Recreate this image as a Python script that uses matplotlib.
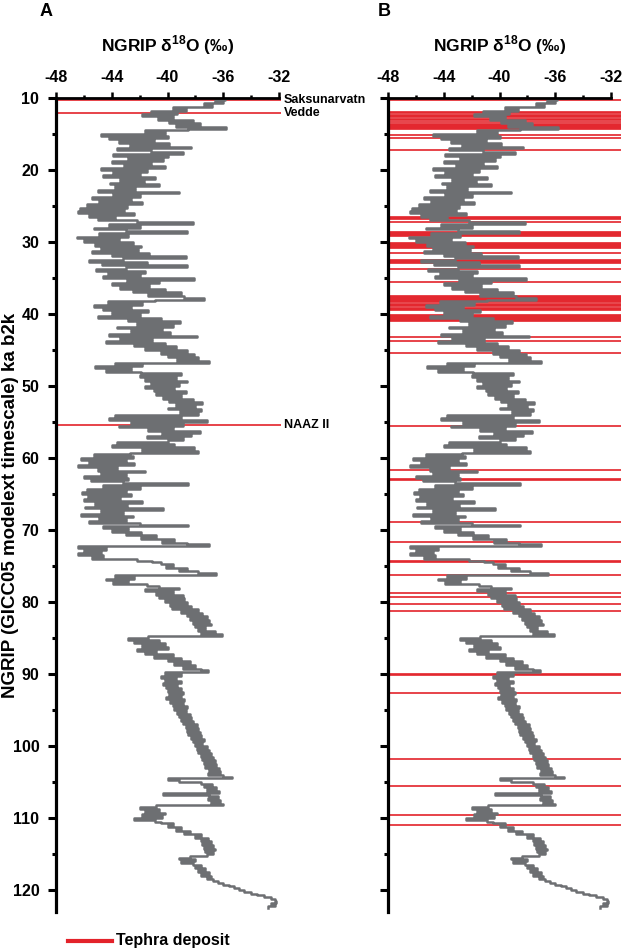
import matplotlib
matplotlib.use('Agg')
import matplotlib.pyplot as plt
from matplotlib.ticker import MultipleLocator
from matplotlib.lines import Line2D
import numpy as np

plt.rcParams['font.family'] = ['Liberation Sans', 'DejaVu Sans']
plt.rcParams['font.weight'] = 'bold'
plt.rcParams['axes.unicode_minus'] = False
plt.rcParams['mathtext.fontset'] = 'custom'
plt.rcParams['mathtext.rm'] = 'Liberation Sans'
plt.rcParams['mathtext.bf'] = 'Liberation Sans:bold'

# NGRIP d18O (permil), every 0.25 ka starting at 10 ka b2k
age_start = 10.0
age_step = 0.25
d18o = [
    -35.2, -35.9, -36.6, -36.0, -37.4, -36.8, -39.6, -38.7, -41.2, -39.3,
    -41.8, -39.6, -40.7, -38.2, -39.9, -37.7, -39.4, -35.8, -38.5, -41.6,
    -40.2, -44.8, -40.0, -44.2, -41.0, -43.5, -39.9, -42.7, -38.3, -43.6,
    -41.2, -38.9, -43.9, -40.0, -42.8, -40.3, -44.0, -41.2, -43.1, -40.2,
    -44.8, -41.5, -43.9, -42.0, -44.6, -40.9, -43.4, -41.7, -44.1, -40.6,
    -43.8, -42.3, -45.0, -39.2, -43.9, -42.0, -45.4, -42.6, -44.9, -41.8,
    -45.8, -42.9, -46.3, -43.1, -46.4, -42.4, -45.6, -43.8, -45.0, -42.2,
    -38.2, -44.2, -42.0, -45.3, -43.0, -38.6, -44.9, -42.8, -46.5, -43.5,
    -46.0, -42.5, -45.2, -41.9, -44.8, -42.1, -45.4, -41.3, -44.0, -38.7,
    -43.2, -45.6, -41.5, -44.7, -38.6, -43.0, -45.1, -41.6, -44.3, -42.0,
    -44.6, -38.1, -42.9, -40.6, -44.0, -41.3, -43.4, -40.2, -42.5, -39.0,
    -41.4, -38.8, -37.4, -40.9, -44.3, -41.8, -45.3, -42.6, -44.6, -41.4,
    -44.0, -42.0, -45.0, -40.5, -42.8, -39.1, -42.2, -39.6, -43.6, -40.4,
    -42.6, -39.8, -44.2, -37.9, -43.4, -41.1, -44.4, -40.2, -42.4, -39.4,
    -41.6, -38.6, -40.5, -38.1, -40.0, -37.8, -39.3, -37.0, -43.8, -41.8,
    -45.2, -42.6, -44.4, -41.9, -39.0, -42.0, -39.4, -41.6, -38.6, -41.2,
    -39.2, -41.6, -39.5, -41.0, -38.7, -40.8, -39.0, -40.3, -38.2, -39.9,
    -37.5, -39.4, -38.0, -40.0, -37.6, -39.1, -37.8, -43.8, -39.0, -44.2,
    -37.2, -42.6, -38.9, -43.5, -39.6, -41.4, -37.7, -40.4, -38.3, -41.5,
    -38.9, -40.0, -43.6, -39.5, -44.0, -38.1, -41.8, -37.8, -42.7, -45.3,
    -42.5, -46.2, -43.0, -45.6, -42.4, -46.4, -43.6, -45.0, -41.6, -44.8,
    -43.0, -46.0, -42.8, -45.5, -43.2, -38.5, -44.6, -42.0, -45.8, -43.0,
    -46.1, -42.6, -45.7, -43.4, -46.0, -41.8, -45.2, -42.9, -45.9, -40.3,
    -44.8, -43.2, -46.2, -42.5, -44.9, -43.0, -45.6, -42.0, -38.5, -44.6,
    -42.8, -44.0, -41.9, -43.0, -40.8, -41.9, -39.5, -40.4, -38.6, -37.0,
    -46.4, -44.4, -46.0, -44.8, -46.4, -44.6, -45.4, -42.2, -41.1, -40.5,
    -39.6, -40.1, -38.6, -39.2, -37.8, -36.5, -43.8, -42.4, -44.4, -42.8,
    -43.9, -41.5, -40.6, -39.2, -41.6, -39.6, -40.8, -38.9, -40.6, -38.8,
    -40.2, -38.6, -39.8, -38.3, -39.7, -37.8, -39.0, -37.5, -38.6, -37.2,
    -38.4, -37.0, -38.2, -36.9, -38.0, -37.3, -37.8, -36.6, -37.6, -36.1,
    -41.4, -42.8, -40.6, -42.4, -40.2, -41.8, -40.0, -42.2, -40.8, -41.6,
    -39.6, -41.0, -39.0, -40.0, -38.4, -39.5, -38.0, -38.9, -37.6, -37.1,
    -40.2, -39.0, -40.5, -39.4, -40.2, -39.0, -40.3, -39.3, -40.1, -39.0,
    -40.0, -38.9, -39.9, -39.0, -40.1, -38.8, -39.8, -38.9, -39.6, -38.6,
    -39.5, -38.7, -39.3, -38.4, -39.2, -38.3, -39.0, -38.2, -38.9, -37.9,
    -38.7, -37.8, -38.6, -37.7, -38.5, -37.6, -38.3, -37.4, -38.2, -37.5,
    -38.0, -37.2, -37.9, -37.0, -37.8, -36.9, -37.6, -36.7, -37.5, -36.6,
    -37.4, -36.5, -37.3, -36.3, -37.0, -36.2, -37.1, -36.0, -35.4, -40.0,
    -39.2, -37.6, -36.8, -37.4, -36.5, -37.2, -36.3, -40.3, -37.0, -36.4,
    -37.1, -36.2, -36.9, -36.0, -40.8, -42.0, -40.6, -41.6, -40.2, -41.8,
    -40.4, -42.4, -40.9, -40.5, -39.6, -40.0, -39.0, -39.4, -38.4, -38.8,
    -37.6, -38.0, -37.1, -37.6, -36.9, -37.5, -36.7, -37.4, -36.6, -37.3,
    -36.7, -37.2, -38.4, -39.2, -38.0, -39.0, -38.2, -37.6, -38.0, -37.3,
    -37.8, -37.0, -37.6, -36.9, -37.2, -36.7, -36.4, -36.0, -35.6, -35.2,
    -34.9, -34.5, -34.0, -33.6, -33.1, -32.6, -32.3, -32.2, -32.6, -32.3,
    -32.8,
]
age = age_start + age_step * np.arange(len(d18o))

# named tephra horizons (panel A)
tephra_a = [10.25, 12.15, 55.45]
tephra_a_names = ['Saksunarvatn', 'Vedde', 'NAAZ II']

# all tephra deposits (panel B)
tephra_b = [10.3, 12.0, 12.15, 12.3, 12.45, 12.6, 12.95, 13.1,
            13.4, 13.55, 13.7, 13.85, 14.0, 14.15, 14.3, 15.15, 15.6, 17.2,
            26.5, 26.65, 26.8, 27.25, 28.6, 28.75, 28.9, 29.05, 29.2,
            30.1, 30.25, 30.4, 30.55, 30.7, 30.85, 31.5,
            32.5, 32.65, 32.8, 32.95, 33.75, 35.5,
            37.5, 37.65, 37.8, 37.95, 38.1, 38.25, 38.4,
            38.65, 38.8, 38.95, 39.1, 39.25, 39.4,
            40.1, 40.25, 40.4, 40.55, 40.7, 40.85, 41.0,
            43.15, 43.75, 45.4, 55.5, 61.6, 62.95, 63.1, 68.9, 71.6,
            74.25, 74.4, 76.3, 78.8, 79.35, 80.3, 81.2, 90.05, 90.2, 92.7,
            101.8, 105.6, 109.6, 110.9]

gray = '#6d6f72'
red = '#e3222a'

fig = plt.figure(figsize=(6.23, 9.5), dpi=100)
axA = fig.add_axes([56 / 623, 38 / 950, 223 / 623, 814 / 950])
axB = fig.add_axes([388 / 623, 38 / 950, 223 / 623, 814 / 950])

for ax in (axA, axB):
    ax.set_xlim(-48, -32)
    ax.set_ylim(123.05, 10)
    ax.xaxis.tick_top()
    ax.xaxis.set_major_locator(MultipleLocator(4))
    ax.xaxis.set_minor_locator(MultipleLocator(2))
    ax.yaxis.set_major_locator(MultipleLocator(10))
    ax.yaxis.set_minor_locator(MultipleLocator(5))
    ax.spines['right'].set_visible(False)
    ax.spines['bottom'].set_visible(False)
    ax.spines['left'].set_linewidth(2.3)
    ax.spines['top'].set_linewidth(2.0)
    ax.tick_params(axis='x', which='major', length=4, width=1.8, labelsize=11.5, pad=5)
    ax.tick_params(axis='x', which='minor', length=2.5, width=1.8)
    ax.tick_params(axis='y', which='major', length=6, width=2.2, labelsize=11.5, pad=6)
    ax.tick_params(axis='y', which='minor', length=3, width=2.2)
    for lab in ax.get_xticklabels() + ax.get_yticklabels():
        lab.set_fontweight('bold')

# panel A
axA.hlines(tephra_a, -48, -31.85, color=red, lw=1.2, clip_on=False, zorder=1)
axA.plot(d18o, age, color=gray, lw=1.8, drawstyle='steps-post', zorder=2)
for t, name in zip(tephra_a, tephra_a_names):
    axA.text(-31.65, t, name, fontsize=9, fontweight='bold', va='center',
             ha='left', clip_on=False)

# panel B
axB.hlines(tephra_b, -48, -31.3, color=red, lw=1.2, clip_on=False, zorder=1)
axB.plot(d18o, age, color=gray, lw=1.8, drawstyle='steps-post', zorder=2)
axB.tick_params(axis='y', labelleft=False)

fig.text(11 / 623, 1 - 505 / 950, 'NGRIP (GICC05 modelext timescale) ka b2k',
         rotation=90, ha='center', va='center', fontsize=13.5, fontweight='bold')

title = r'NGRIP δ$^{18}$O (‰)'
fig.text(167.5 / 623, 1 - 45 / 950, title, ha='center', va='center',
         fontsize=12.5, fontweight='bold')
fig.text(499.5 / 623, 1 - 45 / 950, title, ha='center', va='center',
         fontsize=12.5, fontweight='bold')
fig.text(46 / 623, 1 - 12 / 950, 'A', ha='center', va='center', fontsize=13, fontweight='bold')
fig.text(384 / 623, 1 - 12 / 950, 'B', ha='center', va='center', fontsize=13, fontweight='bold')

# legend
fig.add_artist(Line2D([68 / 623, 112 / 623], [1 - 941 / 950] * 2, color=red, lw=3))
fig.text(116 / 623, 1 - 940 / 950, 'Tephra deposit', ha='left', va='center',
         fontsize=11.5, fontweight='bold')

fig.savefig('out.png', dpi=100)
